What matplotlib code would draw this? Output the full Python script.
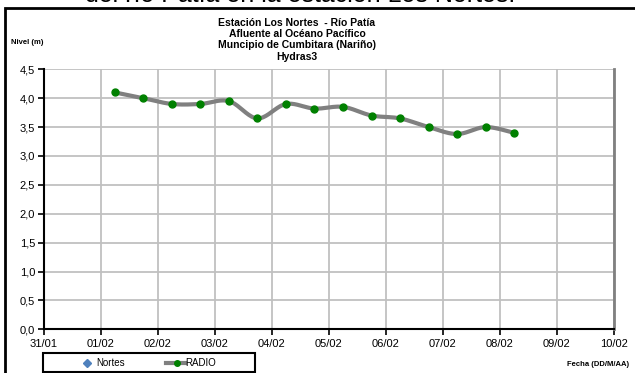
import numpy as np
import matplotlib
matplotlib.use("Agg")
import matplotlib.pyplot as plt
from matplotlib.lines import Line2D
from matplotlib.patches import Rectangle
from matplotlib.ticker import FuncFormatter

plt.rcParams['font.family'] = ['Liberation Sans', 'DejaVu Sans']

# ---- data ----
x_days = [1.25, 1.75, 2.25, 2.75, 3.25, 3.75, 4.25, 4.75, 5.25, 5.75,
          6.25, 6.75, 7.25, 7.75, 8.25]          # days after 31/01
radio = [4.10, 4.00, 3.90, 3.90, 3.95, 3.65, 3.90, 3.82, 3.85, 3.70,
         3.65, 3.50, 3.38, 3.50, 3.40]
x_tick_labels = ["31/01", "01/02", "02/02", "03/02", "04/02", "05/02",
                 "06/02", "07/02", "08/02", "09/02", "10/02"]
y_ticks = [0.0, 0.5, 1.0, 1.5, 2.0, 2.5, 3.0, 3.5, 4.0, 4.5]
title_lines = ["Estación Los Nortes  - Río Patía", "Afluente al Océano Pacífico",
               "Muncipio de Cumbitara (Nariño)", "Hydras3"]
series_names = ["Nortes", "RADIO"]


def smooth(xs, ys, n=20):
    """Catmull-Rom rendering of the line (like Excel's smoothed line)."""
    xs = np.asarray(xs, float); ys = np.asarray(ys, float)
    P = np.column_stack([xs, ys])
    P = np.vstack([P[0], P, P[-1]])
    out = []
    for i in range(1, len(P) - 2):
        p0, p1, p2, p3 = P[i - 1], P[i], P[i + 1], P[i + 2]
        t = np.linspace(0, 1, n, endpoint=False)[:, None]
        c = 0.5 * ((2 * p1) + (-p0 + p2) * t + (2 * p0 - 5 * p1 + 4 * p2 - p3) * t ** 2
                   + (-p0 + 3 * p1 - 3 * p2 + p3) * t ** 3)
        out.append(c)
    out.append(P[-2][None, :])
    c = np.vstack(out)
    return c[:, 0], c[:, 1]


W, H = 635, 373
fig = plt.figure(figsize=(W / 100, H / 100), dpi=100)
fig.patch.set_facecolor('white')


def fx(px):
    return px / W


def fy(py):
    return 1 - py / H


# clipped heading at very top
fig.text(fx(515), fy(2.5), "del río Patía en la estación Los Nortes.", ha='right',
         va='baseline', fontsize=18, color='black')

# outer frame (extends past right/bottom edges)
fig.add_artist(Rectangle((fx(4.5), -0.05), 1.2, fy(8) + 0.05, transform=fig.transFigure,
                         fill=False, edgecolor='black', linewidth=2))

L, R, T, B = 43.5, 614, 69.3, 329.3
ax = fig.add_axes([fx(L), fy(B), (R - L) / W, (B - T) / H])
ax.set_xlim(0, 10)
ax.set_ylim(0, 4.5)
ax.set_xticks(range(len(x_tick_labels)))
ax.set_xticklabels(x_tick_labels)
ax.set_yticks(y_ticks)
ax.yaxis.set_major_formatter(FuncFormatter(lambda v, p: f"{v:.1f}".replace('.', ',')))
ax.grid(True, color='#c0c0c0', linewidth=1.3)
ax.set_axisbelow(True)
for s in ['left', 'bottom']:
    ax.spines[s].set_color('black'); ax.spines[s].set_linewidth(1.5)
ax.spines['right'].set_color('#808080'); ax.spines['right'].set_linewidth(2)
ax.spines['top'].set_visible(False)
ax.tick_params(axis='both', direction='out', length=4, width=1.2, labelsize=8,
               colors='black', pad=2)
ax.tick_params(axis='x', pad=3)

sx, sy = smooth(x_days, radio)
ax.plot(sx, sy, color='#808080', linewidth=3, solid_capstyle='round', zorder=3)
ax.plot(x_days, radio, linestyle='none', marker='o', markersize=5,
        color='#008000', zorder=4)

# titles
for i, line in enumerate(title_lines):
    fig.text(fx(297), fy(22.7 + 11.3 * i), line, ha='center', va='center',
             fontsize=7.5, fontweight='bold')
fig.text(fx(11), fy(42), "Nivel (m)", ha='left', va='center', fontsize=5.5,
         fontweight='bold')
fig.text(fx(629), fy(364), "Fecha (DD/M/AA)", ha='right', va='center', fontsize=5.5,
         fontweight='bold')

# legend (drawn manually to match positions)
fig.add_artist(Rectangle((fx(43), fy(372)), (255 - 43) / W, (372 - 353) / H,
                         transform=fig.transFigure, fill=False, edgecolor='black',
                         linewidth=1.5))
ly = fy(362.5)
fig.add_artist(Line2D([fx(87)], [ly], transform=fig.transFigure, linestyle='none',
                      marker='D', markersize=4, color='#4f81bd'))
fig.text(fx(96), ly, series_names[0], ha='left', va='center', fontsize=7)
fig.add_artist(Line2D([fx(166), fx(185)], [ly, ly], transform=fig.transFigure,
                      color='#808080', linewidth=3))
fig.add_artist(Line2D([fx(177)], [ly], transform=fig.transFigure, linestyle='none',
                      marker='o', markersize=4, color='#008000'))
fig.text(fx(185), ly, series_names[1], ha='left', va='center', fontsize=7)

fig.savefig("out.png", dpi=100, facecolor='white')
